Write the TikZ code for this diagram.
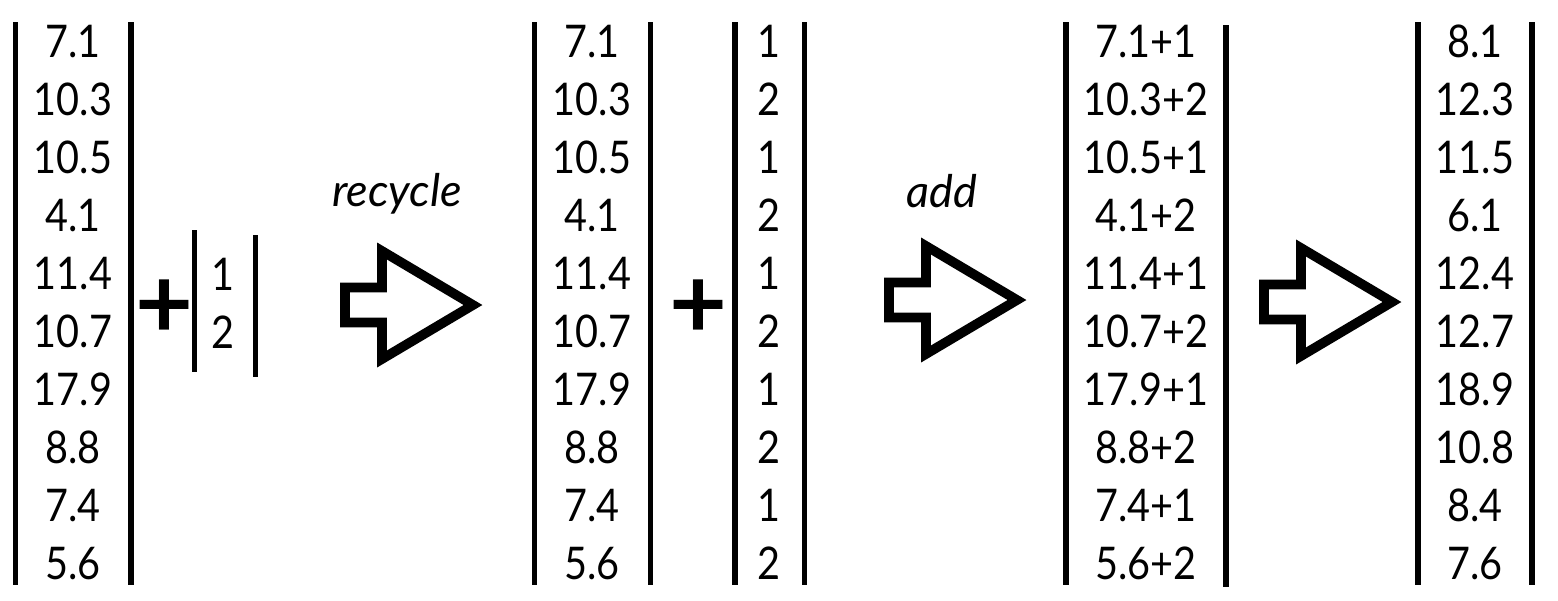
\documentclass[tikz,border=0pt]{standalone}
\usepackage{fontspec}
\setmainfont{Lato}
\newfontfamily\numfont{Lato}[FakeStretch=0.88]
\begin{document}
\begin{tikzpicture}[x=0.5pt,y=-0.5pt,
  num/.style={anchor=base,inner sep=0pt,font=\numfont\fontsize{22.5}{26}\selectfont},
  bar/.style={line width=2.75pt},
  plussign/.style={anchor=center,inner sep=0pt,font=\bfseries\fontsize{50}{50}\selectfont},
  lbl/.style={anchor=base,inner sep=0pt,font=\itshape\fontsize{22.5}{26}\selectfont},
  arrowline/.style={line width=4.8pt,line join=miter,miter limit=10},
  blockarrow/.pic={\draw[arrowline] (0,-17.5) -- (0,17.5) -- (37,17.5) -- (37,54) -- (128,0) -- (37,-54) -- (37,-17.5) -- cycle;}
]
\useasboundingbox (0,0) rectangle (1558,600);

% column 1
\draw[bar] (15.5,22) -- (15.5,585);
\draw[bar] (131,22) -- (131,585);
\foreach \v [count=\i] in {7.1,10.3,10.5,4.1,11.4,10.7,17.9,8.8,7.4,5.6}
  \node[num] (a\i) at (73,{57+58*(\i-1)}) {\v};

\node[plussign] (plusA) at (164,309) {+};

% small vector
\draw[bar] (194.5,230) -- (194.5,372);
\draw[bar] (255.5,235) -- (255.5,377);
\node[num] (b1) at (223,290) {1};
\node[num] (b2) at (223,348) {2};

% arrow 1
\pic at (345,305) {blockarrow};
\node[lbl] (lrecycle) at (397,206) {recycle};

% column 2
\draw[bar] (534.5,22) -- (534.5,585);
\draw[bar] (650.5,22) -- (650.5,585);
\foreach \v [count=\i] in {7.1,10.3,10.5,4.1,11.4,10.7,17.9,8.8,7.4,5.6}
  \node[num] (c\i) at (592,{57+58*(\i-1)}) {\v};

\node[plussign] (plusB) at (698,309) {+};

% recycled vector
\draw[bar] (735,22) -- (735,585);
\draw[bar] (804.5,22) -- (804.5,585);
\foreach \v [count=\i] in {1,2,1,2,1,2,1,2,1,2}
  \node[num] (d\i) at (769,{57+58*(\i-1)}) {\v};

% arrow 2
\pic at (889,300) {blockarrow};
\node[lbl] (ladd) at (942,207) {add};

% column 3
\draw[bar] (1066,22) -- (1066,585);
\draw[bar] (1226,25) -- (1226,587);
\foreach \v [count=\i] in {7.1+1,10.3+2,10.5+1,4.1+2,11.4+1,10.7+2,17.9+1,8.8+2,7.4+1,5.6+2}
  \node[num] (e\i) at (1146,{57+58*(\i-1)}) {\v};

% arrow 3
\pic at (1264,302) {blockarrow};

% column 4
\draw[bar] (1418,22) -- (1418,585);
\draw[bar] (1532,22) -- (1532,585);
\foreach \v [count=\i] in {8.1,12.3,11.5,6.1,12.4,12.7,18.9,10.8,8.4,7.6}
  \node[num] (f\i) at (1475,{57+58*(\i-1)}) {\v};
\end{tikzpicture}
\end{document}
